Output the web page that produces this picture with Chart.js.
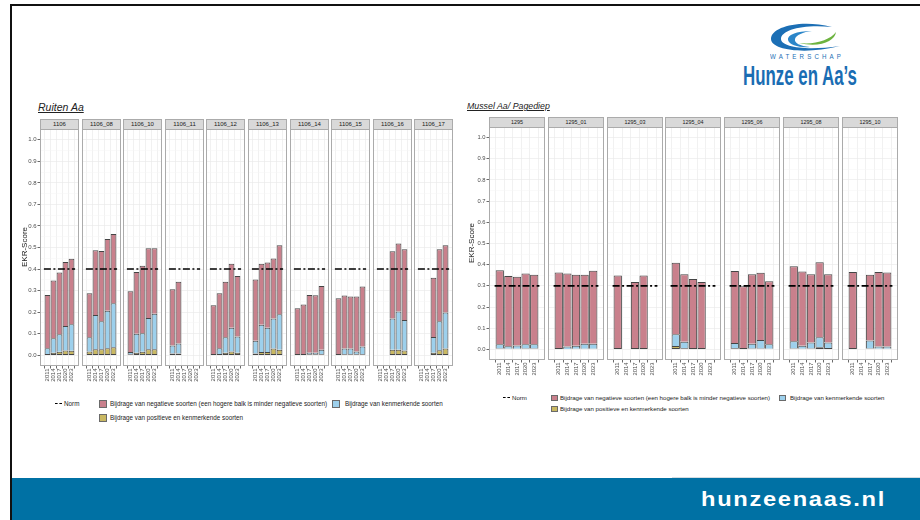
<!DOCTYPE html>
<html><head><meta charset="utf-8">
<script src="https://cdn.jsdelivr.net/npm/chart.js@4/dist/chart.umd.min.js"></script>
<style>
html,body{margin:0;padding:0;background:#fff;}
#root{position:relative;width:920px;height:520px;overflow:hidden;background:#fff;font-family:"Liberation Sans",Arial,sans-serif;}
.strip{position:absolute;background:#D9D9D9;border:1px solid #ABABAB;box-sizing:border-box;color:#1a1a1a;text-align:center;white-space:nowrap;overflow:hidden;}
.facet{position:absolute;}
.txt{position:absolute;white-space:nowrap;color:#1a1a1a;line-height:1;}
.sw{position:absolute;box-sizing:border-box;border:1px solid #6a6a6a;}
</style></head><body><div id="root">
<div style="position:absolute;left:10px;top:4px;width:910px;height:2px;background:#111;"></div>
<div style="position:absolute;left:10px;top:4px;width:2px;height:516px;background:#111;"></div>
<div style="position:absolute;left:12px;top:478px;width:908px;height:42px;background:#0071A4;"></div>
<div style="position:absolute;left:672px;top:477px;width:248px;height:1px;background:#d5dde2;"></div>
<div id="foot" class="txt" style="left:701px;top:488px;font-family:'Liberation Sans Narrow','Liberation Sans',Arial,sans-serif;font-weight:bold;font-size:21px;letter-spacing:1.5px;color:#fff;transform-origin:left top;">hunzeenaas.nl</div>
<svg style="position:absolute;left:0;top:0" width="920" height="100">
 <path d="M832 27 C 800 19, 771 27, 771 39 C 771 50, 805 55, 840 46 C 806 51, 781 47, 781 39 C 781 30, 803 24, 832 27 Z" fill="#1C6FB5"/>
 <path d="M812 31 C 796 31, 787 35, 788 40 C 789 45, 800 48, 810 47 C 800 46, 794 43, 795 39 C 796 35, 803 32, 812 31 Z" fill="#2B86C9"/>
 <path d="M799 43 C 815 45, 830 40, 836 32 C 835 41, 820 48, 799 43 Z" fill="#6DB33F"/>
</svg>
<div id="water" class="txt" style="left:770px;top:54px;font-size:6.5px;letter-spacing:3.3px;color:#1C6FB5;transform-origin:left top;">WATERSCHAP</div>
<div id="hunze" class="txt" style="left:743px;top:62px;font-family:'Liberation Sans Narrow','Liberation Sans',Arial,sans-serif;font-weight:bold;font-size:28px;color:#1A6DB3;transform-origin:left top;">Hunze en Aa’s</div>
<div class="txt" style="left:38px;top:102px;font-size:10.5px;font-style:italic;text-decoration:underline;color:#222;">Ruiten Aa</div>
<div class="txt" style="left:467px;top:102px;font-size:8.8px;font-style:italic;text-decoration:underline;color:#222;">Mussel Aa/ Pagediep</div>
</div>
<script>
// ---------- data ----------
const years = ['2011','2014','2017','2020','2023'];
const yTickValues = [0,0.1,0.2,0.3,0.4,0.5,0.6,0.7,0.8,0.9,1.0];
const yTickLabels = ['0.0','0.1','0.2','0.3','0.4','0.5','0.6','0.7','0.8','0.9','1.0'];
const yAxisTitle = 'EKR-Score';
const legendNorm = 'Norm';
const legendNegatief = 'Bijdrage van negatieve soorten (een hogere balk is minder negatieve soorten)';
const legendKenmerkend = 'Bijdrage van kenmerkende soorten';
const legendPositief = 'Bijdrage van positieve en kenmerkende soorten';

const ruitenFacets = ['1106','1106_08','1106_10','1106_11','1106_12','1106_13','1106_14','1106_15','1106_16','1106_17'];
const ruitenNorm = 0.4;
const ruitenPositief = [
 [0.006,0.011,0.016,0.022,0.021],
 [0.017,0.028,0.028,0.032,0.037],
 [0.005,0.012,0.016,0.028,0.028],
 [0.008,0.008,null,null,null],
 [0,0.006,0.012,0.017,0.012],
 [0.008,0.015,0.015,0.031,0.026],
 [0,0,0.004,0.004,0.005],
 [0,0.005,0.005,0.004,0.005],
 [null,null,0.026,0.026,0.022],
 [null,null,0.012,0.023,0.031]
];
const ruitenKenmerkend = [
 [0.026,0.068,0.081,0.114,0.123],
 [0.067,0.159,0.130,0.175,0.204],
 [0.010,0.088,0.086,0.145,0.165],
 [0.037,0.046,null,null,null],
 [0,0.026,0.072,0.110,0.075],
 [0.059,0.127,0.112,0.139,0.164],
 [0,0,0.008,0.008,0.021],
 [0,0.026,0.026,0.013,0.035],
 [null,null,0.144,0.177,0.141],
 [null,null,0.073,0.135,0.167]
];
const ruitenNegatief = [
 [0.248,0.268,0.287,0.297,0.304],
 [0.204,0.300,0.326,0.333,0.322],
 [0.282,0.286,0.313,0.323,0.303],
 [0.261,0.287,null,null,null],
 [0.232,0.256,0.257,0.298,0.281],
 [0.285,0.283,0.303,0.279,0.321],
 [0.218,0.236,0.267,0.266,0.295],
 [0.264,0.246,0.242,0.256,0.279],
 [null,null,0.313,0.316,0.329],
 [null,null,0.275,0.334,0.313]
];

const musselFacets = ['1295','1295_01','1295_03','1295_04','1295_06','1295_08','1295_10'];
const musselNorm = 0.3;
const musselPositief = [
 [0.004,0.003,0.003,0.004,0.004],
 [0,0.002,0.003,0.003,0.003],
 [0,null,0,0,null],
 [0.016,0.006,0,0,null],
 [0.006,0,0.004,0.004,0.003],
 [0.004,0.003,0.004,0.010,0.007],
 [0,null,0.004,0.003,0.003]
];
const musselKenmerkend = [
 [0.020,0.012,0.015,0.020,0.020],
 [0,0.012,0.014,0.024,0.024],
 [0,null,0,0,null],
 [0.055,0.030,0,0,null],
 [0.024,0,0.023,0.040,0.021],
 [0.035,0.014,0.029,0.047,0.026],
 [0,null,0.038,0.011,0.011]
];
const musselNegatief = [
 [0.350,0.331,0.325,0.334,0.328],
 [0.363,0.344,0.335,0.325,0.344],
 [0.349,null,0.318,0.349,null],
 [0.338,0.319,0.332,0.318,null],
 [0.340,0.298,0.328,0.318,0.298],
 [0.354,0.351,0.322,0.355,0.322],
 [0.365,null,0.310,0.351,0.349]
];

// ---------- style ----------
const COL_POS = '#C9B862', COL_KEN = '#9DD0EC', COL_NEG = '#C9808C', COL_EDGE = '#454545';
Chart.defaults.font.family = '"Liberation Sans", Arial, sans-serif';
const root = document.getElementById('root');

const isMajor = v => Math.abs(v*10 - Math.round(v*10)) < 1e-6;
const gridValues = [];
yTickValues.forEach((v,k) => { gridValues.push(v); if (k < yTickValues.length-1) gridValues.push((v + yTickValues[k+1]) / 2); });

const borderPlugin = {
  id: 'panelBorder',
  afterDraw(chart) {
    const a = chart.chartArea, c = chart.ctx;
    c.save(); c.strokeStyle = '#ABABAB'; c.lineWidth = 1;
    c.strokeRect(a.left + 0.5, a.top + 0.5, a.right - a.left - 1, a.bottom - a.top - 1);
    c.restore();
  }
};

function skipFor(ctx) {
  const ds = ctx.chart.data.datasets;
  for (let k = 1; k < ctx.datasetIndex; k++) {
    const p = ds[k].data[ctx.dataIndex];
    if (p && p.y) return 'start';
  }
  return false;
}
const toPts = arr => arr.map((v,j) => ({x: j + 1, y: (v === null || v === 0) ? null : v}));

function addText(txt, left, top, size, extra) {
  const d = document.createElement('div'); d.className = 'txt'; d.textContent = txt;
  d.style.left = left + 'px'; d.style.top = top + 'px'; d.style.fontSize = size + 'px';
  if (extra) Object.assign(d.style, extra);
  root.appendChild(d); return d;
}

function buildPanel(cfg) {
  cfg.facets.forEach((name, i) => {
    const left = Math.round(cfg.x0 + i * cfg.pitch);
    const first = i === 0;
    const yw = first ? cfg.yAxisW : 0;
    const s = document.createElement('div'); s.className = 'strip';
    Object.assign(s.style, {left: left + 'px', top: cfg.stripTop + 'px', width: cfg.w + 'px',
      height: (cfg.panelTop - cfg.stripTop + 1) + 'px', fontSize: cfg.stripFont + 'px',
      lineHeight: (cfg.panelTop - cfg.stripTop - 1) + 'px'});
    s.textContent = name; root.appendChild(s);

    const box = document.createElement('div'); box.className = 'facet';
    Object.assign(box.style, {left: (left - yw) + 'px', top: cfg.panelTop + 'px',
      width: (cfg.w + yw) + 'px', height: (cfg.panelH + cfg.xAxisH) + 'px'});
    const cv = document.createElement('canvas'); box.appendChild(cv); root.appendChild(box);

    const barDs = (label, arr, color) => ({type: 'bar', label, data: toPts(arr[i]), backgroundColor: color,
      borderColor: COL_EDGE, borderWidth: 1, borderSkipped: skipFor, stack: 'ekr', order: 1,
      barPercentage: 0.96, categoryPercentage: 1});

    new Chart(cv, {
      type: 'bar',
      data: {datasets: [
        {type: 'line', label: legendNorm, data: [{x: 0.4, y: cfg.norm}, {x: 5.6, y: cfg.norm}],
         borderColor: '#000', borderWidth: 1.6, borderDash: [7, 2.5, 2, 2.5], pointRadius: 0, fill: false, stack: 'norm', order: 0},
        barDs(legendPositief, cfg.pos, COL_POS),
        barDs(legendKenmerkend, cfg.ken, COL_KEN),
        barDs(legendNegatief, cfg.neg, COL_NEG)
      ]},
      options: {
        responsive: true, maintainAspectRatio: false, animation: false, devicePixelRatio: 1,
        layout: {padding: 0},
        plugins: {legend: {display: false}, tooltip: {enabled: false}},
        scales: {
          x: {type: 'linear', min: 0.4, max: 5.6,
            afterBuildTicks: sc => { sc.ticks = years.map((_, j) => ({value: j + 1})); },
            afterFit: sc => { sc.height = cfg.xAxisH; sc.paddingLeft = 0; sc.paddingRight = 0; },
            ticks: {autoSkip: false, minRotation: 90, maxRotation: 90, padding: 0,
              font: {size: cfg.tickFont}, color: '#4D4D4D', callback: (v, idx) => years[idx]},
            grid: {color: '#EBEBEB', lineWidth: 0.7, drawTicks: true, tickLength: 2.5, tickColor: '#444', tickWidth: 0.8},
            border: {display: false}},
          y: {type: 'linear', min: -0.05, max: 1.05, stacked: true,
            afterBuildTicks: sc => { sc.ticks = gridValues.map(v => ({value: v})); },
            afterFit: sc => { sc.width = yw; sc.paddingTop = 0; sc.paddingBottom = 0; },
            ticks: {display: first, padding: 1, font: {size: cfg.tickFont}, color: '#4D4D4D', autoSkip: false,
              callback: v => { const k = yTickValues.findIndex(t => Math.abs(t - v) < 1e-6); return k >= 0 ? yTickLabels[k] : ''; }},
            grid: {color: c => isMajor(c.tick.value) ? '#EBEBEB' : '#F4F4F4',
              lineWidth: c => isMajor(c.tick.value) ? 0.7 : 0.5,
              drawTicks: first, tickLength: 2.5, tickWidth: 0.8,
              tickColor: c => isMajor(c.tick.value) ? '#444' : 'rgba(0,0,0,0)'},
            border: {display: false}}
        }
      },
      plugins: [borderPlugin]
    });
  });
  addText(yAxisTitle, cfg.titleX, cfg.titleY, cfg.titleFont, {transform: 'translate(-50%,-50%) rotate(-90deg)', color: '#1a1a1a'});
}

buildPanel({facets: ruitenFacets, pos: ruitenPositief, ken: ruitenKenmerkend, neg: ruitenNegatief, norm: ruitenNorm,
  x0: 40, pitch: 41.6, w: 39, stripTop: 119, panelTop: 129, panelH: 237, yAxisW: 24, xAxisH: 22,
  stripFont: 6, tickFont: 6, titleX: 25, titleY: 247, titleFont: 8});
buildPanel({facets: musselFacets, pos: musselPositief, ken: musselKenmerkend, neg: musselNegatief, norm: musselNorm,
  x0: 489, pitch: 58.8, w: 56, stripTop: 117, panelTop: 127, panelH: 233, yAxisW: 22, xAxisH: 22,
  stripFont: 5.4, tickFont: 5.8, titleX: 472, titleY: 243, titleFont: 8});

// ---------- legends ----------
function normKey(x, cy) {
  const d = document.createElement('div');
  Object.assign(d.style, {position: 'absolute', left: x + 'px', top: (cy - 0.75) + 'px', width: '7px', height: '0',
    borderTop: '1.5px dashed #000'});
  root.appendChild(d);
}
function swatch(x, cy, size, color) {
  const d = document.createElement('div'); d.className = 'sw';
  Object.assign(d.style, {left: x + 'px', top: (cy - size / 2) + 'px', width: size + 'px', height: size + 'px', background: color});
  root.appendChild(d);
}
function legend(L) {
  normKey(L.normX, L.r1);
  addText(legendNorm, L.normX + 9, L.r1 - L.fs * 0.55, L.fs);
  swatch(L.sw1, L.r1, L.sz, COL_NEG); addText(legendNegatief, L.t1, L.r1 - L.fs * 0.55, L.fs);
  swatch(L.sw2, L.r1, L.sz, COL_KEN); addText(legendKenmerkend, L.t2, L.r1 - L.fs * 0.55, L.fs);
  swatch(L.sw1, L.r2, L.sz, COL_POS); addText(legendPositief, L.t1, L.r2 - L.fs * 0.55, L.fs);
}
legend({normX: 55, r1: 404, r2: 418, sw1: 99, t1: 110, sw2: 332, t2: 345, sz: 8, fs: 6.3});
legend({normX: 503, r1: 398, r2: 409, sw1: 551, t1: 560, sw2: 779, t2: 790, sz: 6.5, fs: 6.1});

// ---------- fit logo / footer text widths ----------
function fit(id, target) {
  const el = document.getElementById(id);
  el.style.transform = 'none';
  const w = el.getBoundingClientRect().width;
  if (w > 0) el.style.transform = 'scaleX(' + (target / w) + ')';
}
function fitAll() { fit('hunze', 114); fit('foot', 185); fit('water', 74); }
fitAll();
if (document.fonts && document.fonts.ready) document.fonts.ready.then(fitAll);
</script>
</body></html>
